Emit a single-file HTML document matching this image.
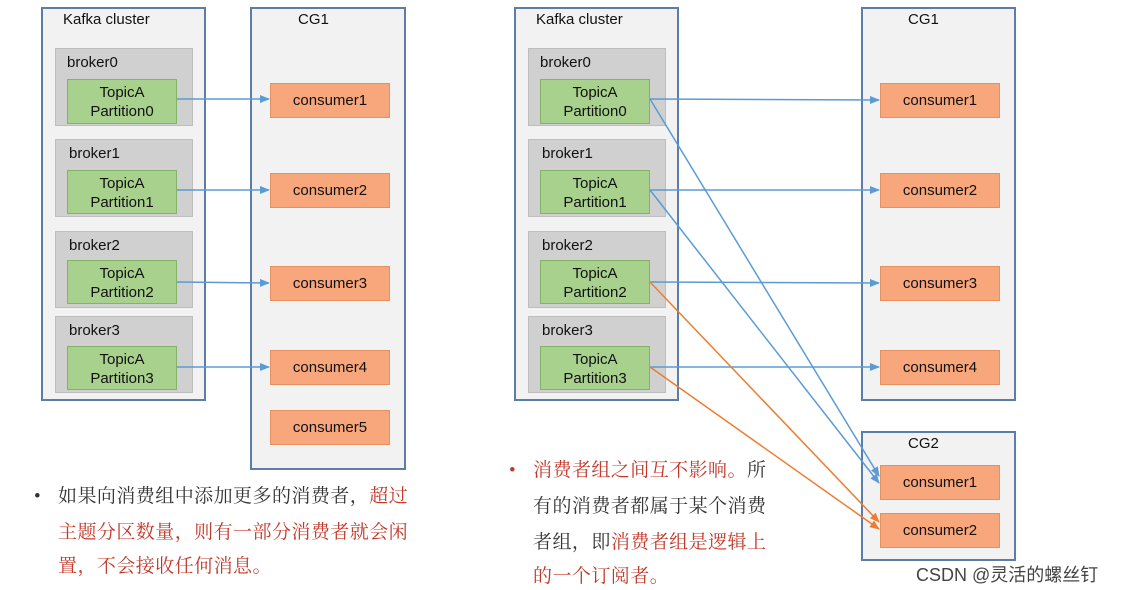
<!DOCTYPE html>
<html><head><meta charset="utf-8"><style>
body{margin:0;width:1122px;height:590px;background:#fff;position:relative;overflow:hidden;font-family:"Liberation Sans",Arial,sans-serif;}
.a{position:absolute;box-sizing:border-box;}
.box{border:2px solid #5b7ea8;background:#f2f2f2;}
.brk{background:#d0d0d0;border:1px solid #bdbdbd;}
.brk span{position:absolute;left:11px;top:5px;font-size:15px;color:#111;}
.grn{background:#a9d18e;border:1px solid #82b366;font-size:15px;color:#111;text-align:center;line-height:19px;padding-top:3px;}
.con{background:#f8a77c;border:1px solid #e59060;font-size:15px;color:#111;text-align:center;line-height:34px;}
.t{position:absolute;font-size:15px;color:#111;}
.tx{position:absolute;font-family:"Liberation Serif","Noto Serif CJK SC",serif;font-size:19px;line-height:24px;color:#333;white-space:nowrap;letter-spacing:0.45px;}
.r{color:#c0392b;}
</style></head><body>

<!-- Left -->
<div class="a box" style="left:41px;top:7px;width:165px;height:394px"></div>
<div class="t" style="left:63px;top:11px">Kafka cluster</div>
<div class="a box" style="left:250px;top:7px;width:156px;height:463px"></div>
<div class="t" style="left:298px;top:11px">CG1</div>

<div class="a brk" style="left:55px;top:48px;width:138px;height:78px"><span>broker0</span></div>
<div class="a brk" style="left:55px;top:139px;width:138px;height:78px"><span style="left:13px">broker1</span></div>
<div class="a brk" style="left:55px;top:231px;width:138px;height:77px"><span style="left:13px">broker2</span></div>
<div class="a brk" style="left:55px;top:316px;width:138px;height:77px"><span style="left:13px">broker3</span></div>
<div class="a grn" style="left:67px;top:79px;width:110px;height:45px">TopicA<br>Partition0</div>
<div class="a grn" style="left:67px;top:170px;width:110px;height:44px">TopicA<br>Partition1</div>
<div class="a grn" style="left:67px;top:260px;width:110px;height:44px">TopicA<br>Partition2</div>
<div class="a grn" style="left:67px;top:346px;width:110px;height:44px">TopicA<br>Partition3</div>
<div class="a con" style="left:270px;top:83px;width:120px;height:35px">consumer1</div>
<div class="a con" style="left:270px;top:173px;width:120px;height:35px">consumer2</div>
<div class="a con" style="left:270px;top:266px;width:120px;height:35px">consumer3</div>
<div class="a con" style="left:270px;top:350px;width:120px;height:35px">consumer4</div>
<div class="a con" style="left:270px;top:410px;width:120px;height:35px">consumer5</div>

<!-- Right -->
<div class="a box" style="left:514px;top:7px;width:165px;height:394px"></div>
<div class="t" style="left:536px;top:11px">Kafka cluster</div>
<div class="a box" style="left:861px;top:7px;width:155px;height:394px"></div>
<div class="t" style="left:908px;top:11px">CG1</div>
<div class="a box" style="left:861px;top:431px;width:155px;height:130px"></div>
<div class="t" style="left:908px;top:435px">CG2</div>

<div class="a brk" style="left:528px;top:48px;width:138px;height:78px"><span>broker0</span></div>
<div class="a brk" style="left:528px;top:139px;width:138px;height:78px"><span style="left:13px">broker1</span></div>
<div class="a brk" style="left:528px;top:231px;width:138px;height:77px"><span style="left:13px">broker2</span></div>
<div class="a brk" style="left:528px;top:316px;width:138px;height:77px"><span style="left:13px">broker3</span></div>
<div class="a grn" style="left:540px;top:79px;width:110px;height:45px">TopicA<br>Partition0</div>
<div class="a grn" style="left:540px;top:170px;width:110px;height:44px">TopicA<br>Partition1</div>
<div class="a grn" style="left:540px;top:260px;width:110px;height:44px">TopicA<br>Partition2</div>
<div class="a grn" style="left:540px;top:346px;width:110px;height:44px">TopicA<br>Partition3</div>
<div class="a con" style="left:880px;top:83px;width:120px;height:35px">consumer1</div>
<div class="a con" style="left:880px;top:173px;width:120px;height:35px">consumer2</div>
<div class="a con" style="left:880px;top:266px;width:120px;height:35px">consumer3</div>
<div class="a con" style="left:880px;top:350px;width:120px;height:35px">consumer4</div>
<div class="a con" style="left:880px;top:465px;width:120px;height:35px">consumer1</div>
<div class="a con" style="left:880px;top:513px;width:120px;height:35px">consumer2</div>

<svg class="a" style="left:0;top:0" width="1122" height="590">
<defs>
<marker id="b" markerWidth="10" markerHeight="8" refX="9" refY="4" orient="auto" markerUnits="userSpaceOnUse"><path d="M0,0 L10,4 L0,8 Z" fill="#5b9bd5"/></marker>
<marker id="o" markerWidth="10" markerHeight="8" refX="9" refY="4" orient="auto" markerUnits="userSpaceOnUse"><path d="M0,0 L10,4 L0,8 Z" fill="#ed7d31"/></marker>
</defs>
<g stroke="#5b9bd5" stroke-width="1.5" fill="none" marker-end="url(#b)">
<line x1="177" y1="99" x2="269" y2="99"/>
<line x1="177" y1="190" x2="269" y2="190"/>
<line x1="177" y1="282" x2="269" y2="283"/>
<line x1="177" y1="367" x2="269" y2="367"/>
<line x1="650" y1="99" x2="879" y2="100"/>
<line x1="650" y1="190" x2="879" y2="190"/>
<line x1="650" y1="282" x2="879" y2="283"/>
<line x1="650" y1="367" x2="879" y2="367"/>
<line x1="650" y1="99" x2="879" y2="476"/>
<line x1="650" y1="190" x2="879" y2="483"/>
</g>
<g stroke="#ed7d31" stroke-width="1.5" fill="none" marker-end="url(#o)">
<line x1="650" y1="282" x2="879" y2="522"/>
<line x1="650" y1="367" x2="879" y2="529"/>
</g>
</svg>

<div class="tx" style="left:34px;top:485px">•</div>
<div class="tx" style="left:58px;top:485px">如果向消费组中添加更多的消费者，<span class="r">超过</span></div>
<div class="tx r" style="left:58px;top:521px">主题分区数量，则有一部分消费者就会闲</div>
<div class="tx r" style="left:58px;top:555px">置，不会接收任何消息。</div>

<div class="tx r" style="left:509px;top:459px">•</div>
<div class="tx" style="left:533px;top:459px"><span class="r">消费者组之间互不影响。</span>所</div>
<div class="tx" style="left:533px;top:495px">有的消费者都属于某个消费</div>
<div class="tx" style="left:533px;top:531px">者组，即<span class="r">消费者组是逻辑上</span></div>
<div class="tx r" style="left:533px;top:565px">的一个订阅者。</div>
<div class="a" style="left:916px;top:561px;font-size:18px;color:#444;font-family:'Liberation Sans','Noto Sans CJK SC',sans-serif">CSDN @灵活的螺丝钉</div>
</body></html>
